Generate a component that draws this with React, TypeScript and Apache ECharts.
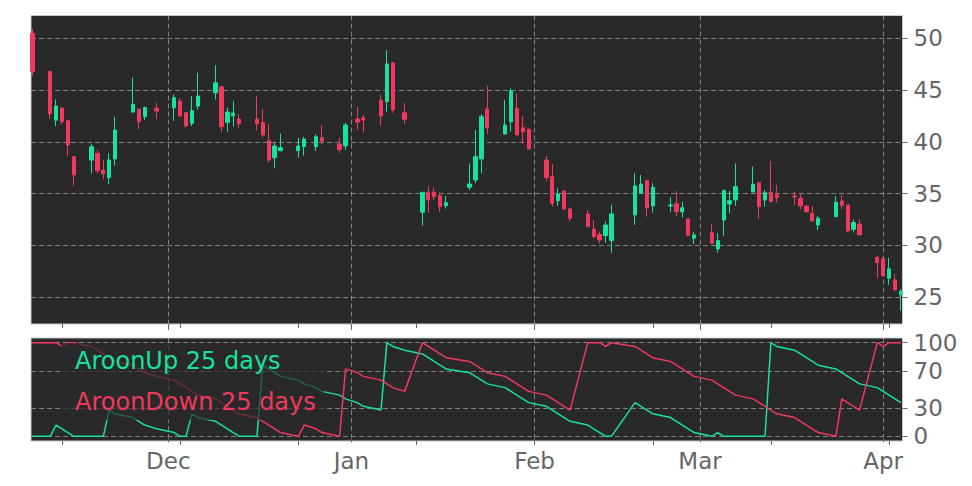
import { useEffect, useRef } from "react";
import * as echarts from "echarts";

// trading days shown, Nov 2024 - Apr 2025
const tradingDays = [
  "2024-11-08", "2024-11-11", "2024-11-12", "2024-11-13", "2024-11-14", "2024-11-15",
  "2024-11-18", "2024-11-19", "2024-11-20", "2024-11-21", "2024-11-22",
  "2024-11-25", "2024-11-26", "2024-11-27", "2024-11-29",
  "2024-12-02", "2024-12-03", "2024-12-04", "2024-12-05", "2024-12-06",
  "2024-12-09", "2024-12-10", "2024-12-11", "2024-12-12", "2024-12-13",
  "2024-12-16", "2024-12-17", "2024-12-18", "2024-12-19", "2024-12-20",
  "2024-12-23", "2024-12-24", "2024-12-26", "2024-12-27", "2024-12-30", "2024-12-31",
  "2025-01-02", "2025-01-03", "2025-01-06", "2025-01-07", "2025-01-08", "2025-01-10",
  "2025-01-13", "2025-01-14", "2025-01-15", "2025-01-16", "2025-01-17",
  "2025-01-21", "2025-01-22", "2025-01-23", "2025-01-24",
  "2025-01-27", "2025-01-28", "2025-01-29", "2025-01-30", "2025-01-31",
  "2025-02-03", "2025-02-04", "2025-02-05", "2025-02-06", "2025-02-07",
  "2025-02-10", "2025-02-11", "2025-02-12", "2025-02-13", "2025-02-14",
  "2025-02-18", "2025-02-19", "2025-02-20", "2025-02-21",
  "2025-02-24", "2025-02-25", "2025-02-26", "2025-02-27", "2025-02-28",
  "2025-03-03", "2025-03-04", "2025-03-05", "2025-03-06", "2025-03-07",
  "2025-03-10", "2025-03-11", "2025-03-12", "2025-03-13", "2025-03-14",
  "2025-03-17", "2025-03-18", "2025-03-19", "2025-03-20", "2025-03-21",
  "2025-03-24", "2025-03-25", "2025-03-26", "2025-03-27", "2025-03-28",
  "2025-03-31", "2025-04-01", "2025-04-02", "2025-04-03", "2025-04-04",
];

const openPrices = [
  50.5, 46.8, 42.1, 43.27, 42.04, 38.56,
  38.24, 38.89, 37.27, 36.53, 38.34,
  42.88, 43.17, 42.43, 43.24,
  43.29, 43.94, 42.81, 41.79, 43.46,
  44.74, 45.32, 41.88, 42.52, 42.2,
  42.2, 41.85, 40.11, 38.46, 39.14,
  39.14, 39.53, 39.53, 40.4, 39.79, 39.6,
  42.2, 42.33, 44.04, 43.88, 47.64, 42.81,
  33.19, 35.12, 35.12, 34.79, 33.83,
  35.6, 36.31, 38.34, 43.17,
  40.75, 41.94, 43.24, 41.36, 41.21,
  38.24, 36.63, 34.31, 35.25, 33.51,
  33.03, 31.57, 31.06, 30.93, 30.45,
  32.93, 35.02, 36.24, 33.8,
  33.8, 34.0, 33.22, 32.54, 30.68,
  31.22, 29.64, 32.44, 33.99, 34.38,
  35.15, 36.05, 34.38, 35.12, 34.86,
  34.76, 34.54, 33.8, 33.09, 31.96,
  32.76, 34.28, 33.9, 31.54, 32.05,
  28.84, 28.68, 26.81, 26.65, 25.2,
];

const closePrices = [
  46.8, 42.7, 43.46, 41.94, 39.69, 36.79,
  39.53, 37.21, 36.89, 38.24, 41.14,
  43.62, 41.94, 43.33, 42.98,
  44.26, 42.49, 41.53, 43.0, 44.43,
  45.71, 41.46, 42.88, 42.78, 41.75,
  41.75, 40.66, 38.24, 39.6, 39.43,
  39.6, 40.27, 40.5, 40.08, 39.27, 41.62,
  41.91, 42.1, 42.49, 47.52, 43.07, 42.17,
  35.12, 34.38, 34.7, 33.73, 34.12,
  35.92, 38.56, 42.43, 41.36,
  41.62, 44.94, 40.66, 40.98, 39.3,
  36.56, 34.06, 34.96, 33.51, 32.61,
  31.8, 30.83, 30.51, 31.96, 33.03,
  35.73, 35.92, 33.63, 35.6,
  33.9, 33.25, 33.63, 30.97, 31.0,
  30.19, 30.45, 35.28, 34.31, 35.67,
  35.89, 33.73, 35.08, 34.21, 34.6,
  34.67, 33.8, 33.22, 32.35, 32.61,
  34.15, 33.86, 31.38, 32.19, 31.0,
  28.32, 27.03, 27.71, 25.68, 25.52,
];

const lowPrices = [
  46.4, 42.2, 41.5, 41.7, 38.6, 35.76,
  36.96, 36.96, 36.38, 35.9, 37.69,
  42.88, 41.24, 42.1, 42.2,
  42.04, 42.45, 41.4, 41.53, 43.14,
  44.1, 40.92, 40.98, 41.46, 41.36,
  41.1, 40.5, 38.0, 37.44, 39.14,
  38.46, 38.66, 39.11, 39.76, 38.89, 39.2,
  41.14, 40.92, 41.53, 42.91, 42.81, 41.72,
  31.9, 33.15, 34.38, 33.19, 33.54,
  35.34, 35.99, 36.96, 40.75,
  40.75, 40.98, 40.66, 39.86, 39.3,
  36.2, 33.73, 33.8, 33.41, 32.28,
  31.8, 30.68, 30.19, 30.25, 29.23,
  31.96, 35.02, 32.76, 33.15,
  33.25, 32.83, 32.67, 30.9, 30.1,
  30.19, 29.29, 30.9, 33.09, 33.8,
  35.15, 32.54, 33.73, 34.2, 34.15,
  33.9, 33.48, 33.2, 32.35, 31.48,
  32.76, 33.48, 31.26, 31.22, 31.0,
  26.81, 27.03, 26.16, 25.68, 23.68,
];

const highPrices = [
  50.9, 46.9, 44.1, 43.3, 42.1, 38.6,
  39.8, 39.2, 38.24, 38.9, 42.43,
  46.23, 43.2, 43.4, 43.8,
  44.59, 44.26, 42.85, 44.43, 46.68,
  47.42, 45.4, 43.3, 43.94, 42.66,
  44.43, 43.17, 41.72, 39.91, 40.82,
  40.4, 40.5, 40.72, 41.62, 40.4, 41.85,
  43.39, 42.59, 44.52, 48.87, 47.7, 43.78,
  35.15, 35.73, 35.57, 35.12, 34.76,
  37.92, 41.14, 42.69, 45.39,
  44.04, 45.17, 44.69, 42.49, 41.3,
  38.63, 37.86, 35.51, 35.3, 33.63,
  33.41, 32.44, 31.31, 32.28, 33.9,
  36.96, 36.79, 36.24, 35.99,
  34.64, 35.28, 34.22, 32.55, 31.31,
  32.05, 31.16, 35.41, 35.25, 37.92,
  37.6, 36.05, 35.34, 38.14, 35.83,
  35.18, 35.02, 33.8, 33.8, 32.83,
  34.76, 34.86, 33.9, 32.51, 32.51,
  28.97, 28.84, 28.8, 27.2, 25.75,
];

const aroonUp = [
  0, 0, 12, 8, 4, 0,
  0, 0, 0, 28, 24,
  20, 16, 12, 8,
  4, 0, 0, 24, 20,
  16, 12, 8, 4, 0,
  0, 76, 72, 68, 64,
  60, 56, 52, 48, 44, 40,
  36, 32, 28, 100, 96, 92,
  88, 84, 80, 76, 72,
  68, 64, 60, 56,
  52, 48, 44, 40, 36,
  32, 28, 24, 20, 16,
  12, 8, 4, 0, 0,
  36, 32, 28, 24,
  20, 16, 12, 8, 4,
  0, 4, 0, 0, 0,
  0, 0, 0, 100, 96,
  92, 88, 84, 80, 76,
  72, 68, 64, 60, 56,
  52, 48, 44, 40, 36,
];

const aroonDown = [
  100, 100, 100, 96, 100, 100,
  96, 92, 88, 84, 80,
  76, 72, 68, 64,
  60, 56, 52, 48, 44,
  40, 36, 32, 28, 24,
  20, 16, 12, 8, 4,
  0, 12, 8, 4, 0, 72,
  68, 64, 60, 56, 52, 48,
  100, 96, 92, 88, 84,
  80, 76, 72, 68,
  64, 60, 56, 52, 48,
  44, 40, 36, 32, 28,
  100, 100, 100, 96, 100,
  96, 92, 88, 84,
  80, 76, 72, 68, 64,
  60, 56, 52, 48, 44,
  40, 36, 32, 28, 24,
  20, 16, 12, 8, 4,
  0, 40, 36, 32, 28,
  100, 96, 100, 100, 100,
];

const monthTicks = ["2024-12-01", "2025-01-01", "2025-02-01", "2025-03-01", "2025-04-01"];
const minorTicks = [
  "2024-11-13", "2024-12-03", "2024-12-23", "2025-01-12",
  "2025-02-01", "2025-02-21", "2025-03-13", "2025-04-02",
];
const priceTicks = [25, 30, 35, 40, 45, 50];
const aroonTicks = [0, 30, 70, 100];
const monthNames = ["Jan", "Feb", "Mar", "Apr", "May", "Jun", "Jul", "Aug", "Sep", "Oct", "Nov", "Dec"];

const UP = "#17e39c";
const DOWN = "#f0395c";
const BG = "#292929";
const LABEL = "#666666";
const GRIDLINE = "rgba(190,190,190,0.6)";
const FONT = "DejaVu Sans";
const DAY = 86400000;

const toTime = (s: string) => {
  const [y, m, d] = s.split("-").map(Number);
  return new Date(y, m - 1, d).getTime();
};

const App = () => {
  const chartRef = useRef<HTMLDivElement>(null);

  useEffect(() => {
    if (!chartRef.current) return;
    const chart = echarts.init(chartRef.current, null, { renderer: "svg" });

    const xMin = toTime(tradingDays[0]) - 0.24 * DAY;
    const xMax = toTime(tradingDays[tradingDays.length - 1]) + 0.27 * DAY;
    const majorT = monthTicks.map(toTime);
    const minorT = minorTicks.map(toTime);
    const dashed = { color: GRIDLINE, width: 1, type: [5, 3] };

    // dates are plotted on a value axis (ms), ticks placed by hand-picked dates
    const mainX = (gridIndex: number, showLabels: boolean) => ({
      type: "value",
      gridIndex,
      position: "bottom",
      min: xMin,
      max: xMax,
      axisLine: { show: false },
      axisTick: { show: true, customValues: majorT, length: 6, lineStyle: { color: LABEL } },
      axisLabel: {
        show: showLabels,
        customValues: majorT,
        formatter: (v: number) => monthNames[new Date(v).getMonth()],
        color: LABEL,
        fontSize: 23,
        fontFamily: FONT,
        margin: 8,
      },
      splitLine: { show: true, lineStyle: dashed },
    });

    const minorX = (gridIndex: number) => ({
      type: "value",
      gridIndex,
      position: "bottom",
      min: xMin,
      max: xMax,
      axisLine: { show: false },
      axisTick: { show: true, customValues: minorT, length: 4, lineStyle: { color: LABEL } },
      axisLabel: { show: false },
      splitLine: { show: false },
    });

    const rightY = (gridIndex: number, min: number, max: number, ticks: number[]) => ({
      type: "value",
      gridIndex,
      position: "right",
      min,
      max,
      axisLine: { show: false },
      axisTick: { show: true, customValues: ticks, length: 5, lineStyle: { color: LABEL } },
      axisLabel: { customValues: ticks, color: LABEL, fontSize: 23, fontFamily: FONT, margin: 11 },
      splitLine: { show: true, lineStyle: dashed },
    });

    const times = tradingDays.map(toTime);

    const option = {
      animation: false,
      backgroundColor: "#ffffff",
      textStyle: { fontFamily: FONT },
      grid: [
        { left: 31, top: 15.5, width: 871.5, height: 308.5, show: true, backgroundColor: BG, borderColor: "#c8c8c8", borderWidth: 1 },
        { left: 31, top: 338, width: 871.5, height: 103, show: true, backgroundColor: BG, borderColor: "#c8c8c8", borderWidth: 1 },
      ],
      xAxis: [mainX(0, false), minorX(0), mainX(1, true), minorX(1)],
      yAxis: [rightY(0, 22.38, 52.22, priceTicks), rightY(1, -5, 105, aroonTicks)],
      legend: {
        data: [
          { name: "AroonUp 25 days", textStyle: { color: UP } },
          { name: "AroonDown 25 days", textStyle: { color: DOWN } },
        ],
        orient: "vertical",
        left: 61,
        top: 343,
        itemWidth: 0,
        itemHeight: 0,
        itemGap: 13,
        padding: [4, 8],
        backgroundColor: "rgba(41,41,41,0.7)",
        selectedMode: false,
        textStyle: { fontSize: 24, fontFamily: FONT, lineHeight: 28 },
      },
      series: [
        {
          type: "candlestick",
          name: "price",
          xAxisIndex: 0,
          yAxisIndex: 0,
          barWidth: 3.8,
          encode: { x: 0, y: [1, 2, 3, 4] },
          data: times.map((t, i) => [t, openPrices[i], closePrices[i], lowPrices[i], highPrices[i]]),
          itemStyle: { color: UP, color0: DOWN, borderColor: UP, borderColor0: DOWN, borderWidth: 1 },
        },
        {
          type: "line",
          name: "AroonUp 25 days",
          xAxisIndex: 2,
          yAxisIndex: 1,
          showSymbol: false,
          data: times.map((t, i) => [t, aroonUp[i]]),
          lineStyle: { color: UP, width: 1.5 },
          itemStyle: { color: UP },
        },
        {
          type: "line",
          name: "AroonDown 25 days",
          xAxisIndex: 2,
          yAxisIndex: 1,
          showSymbol: false,
          data: times.map((t, i) => [t, aroonDown[i]]),
          lineStyle: { color: DOWN, width: 1.5 },
          itemStyle: { color: DOWN },
        },
      ],
    };

    chart.setOption(option as any);

    return () => {
      chart.dispose();
    };
  }, []);

  return (
    <div
      ref={chartRef}
      style={{ position: "absolute", left: 0, top: 0, width: 972, height: 486, background: "#fff" }}
    />
  );
};

export default App;
